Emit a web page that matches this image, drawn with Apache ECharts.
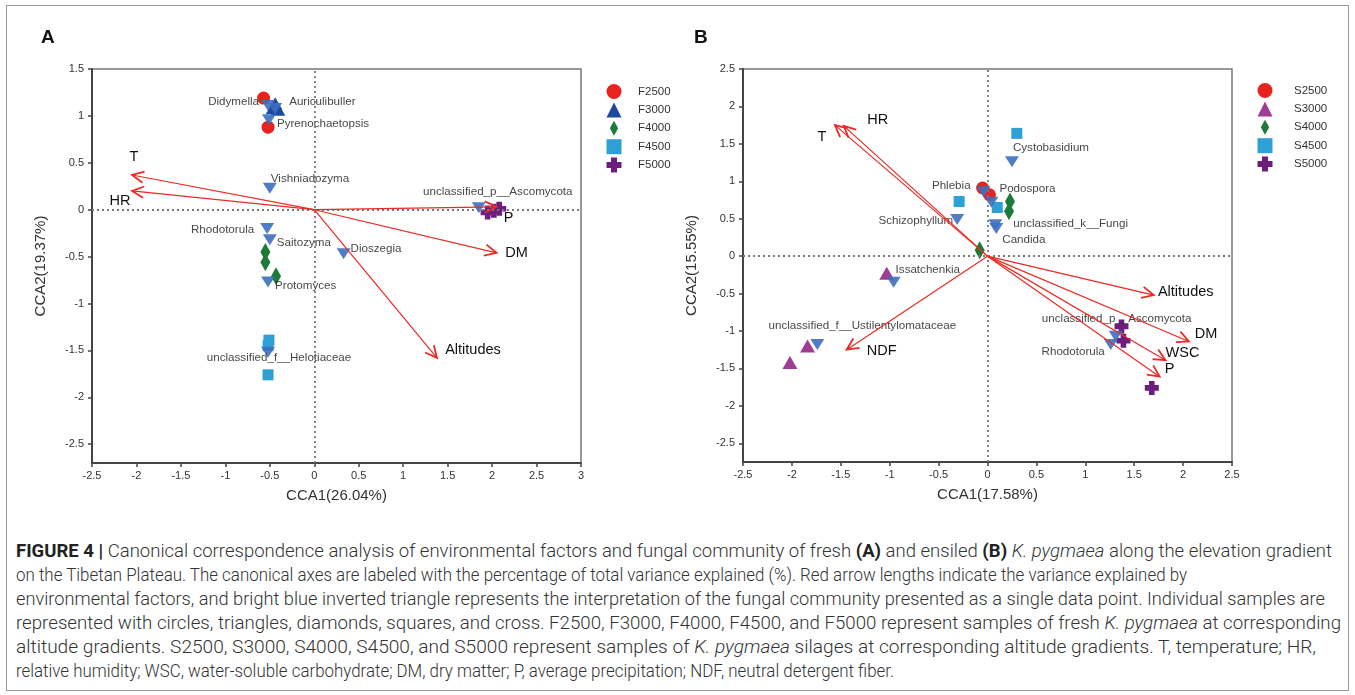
<!DOCTYPE html>
<html>
<head>
<meta charset="utf-8">
<script src="https://cdn.jsdelivr.net/npm/echarts@6/dist/echarts.min.js"></script>
<style>
  html, body { margin: 0; padding: 0; background: #fff; }
  #frame { position: absolute; left: 6px; top: 5px; width: 1341px; height: 684px; border: 1px solid #9a9a9a; }
  #chart { position: absolute; left: 0; top: 0; width: 1355px; height: 520px; }
  #caption {
    position: absolute; left: 16px; top: 539px;
    font-family: "Liberation Sans Narrow", Roboto, "Liberation Sans", sans-serif;
    font-size: 18px; color: #333; font-weight: 300;
  }
  #caption .line { white-space: nowrap; height: 24px; line-height: 24px; transform-origin: 0 50%; width: max-content; }
  #caption b { font-weight: bold; color: #222; }
</style>
</head>
<body>
<div id="frame"></div>
<div id="chart"></div>
<div id="caption">
  <div class="line" data-w="1316"><b>FIGURE 4 |</b> Canonical correspondence analysis of environmental factors and fungal community of fresh <b>(A)</b> and ensiled <b>(B)</b> <i>K. pygmaea</i> along the elevation gradient</div>
  <div class="line" data-w="1171">on the Tibetan Plateau. The canonical axes are labeled with the percentage of total variance explained (%). Red arrow lengths indicate the variance explained by</div>
  <div class="line" data-w="1309">environmental factors, and bright blue inverted triangle represents the interpretation of the fungal community presented as a single data point. Individual samples are</div>
  <div class="line" data-w="1325">represented with circles, triangles, diamonds, squares, and cross. F2500, F3000, F4000, F4500, and F5000 represent samples of fresh <i>K. pygmaea</i> at corresponding</div>
  <div class="line" data-w="1300">altitude gradients. S2500, S3000, S4000, S4500, and S5000 represent samples of <i>K. pygmaea</i> silages at corresponding altitude gradients. T, temperature; HR,</div>
  <div class="line" data-w="878">relative humidity; WSC, water-soluble carbohydrate; DM, dry matter; P, average precipitation; NDF, neutral detergent fiber.</div>
</div>
<script>
// ---- panel A : fresh ----
const f2500 = [[-0.57, 1.19], [-0.52, 0.88]];
const f3000 = [[-0.46, 1.09], [-0.41, 1.07], [-0.44, 1.13]];
const f4000 = [[-0.55, -0.45], [-0.55, -0.56], [-0.43, -0.71]];
const f4500 = [[-0.51, -1.39], [-0.52, -1.45], [-0.52, -1.76]];
const f5000 = [[1.95, -0.03], [2.08, 0.01], [2.02, -0.01]];
const freshSpecies = ['Didymella', 'Auriculibuller', 'Pyrenochaetopsis', 'Vishniadozyma', 'Rhodotorula',
  'Saitozyma', 'Dioszegia', 'Protomyces', 'unclassified_f__Helotiaceae', 'unclassified_p__Ascomycota'];
const freshSpeciesXY = [[-0.52, 1.11], [-0.44, 1.08], [-0.51, 0.96], [-0.50, 0.23], [-0.53, -0.20],
  [-0.50, -0.32], [0.33, -0.47], [-0.52, -0.77], [-0.52, -1.52], [1.85, 0.02]];
const freshFactors = ['T', 'HR', 'P', 'DM', 'Altitudes'];
const freshFactorXY = [[-2.05, 0.37], [-2.05, 0.20], [2.05, 0.03], [2.05, -0.46], [1.38, -1.58]];

// ---- panel B : silage ----
const s2500 = [[-0.05, 0.91], [0.02, 0.82]];
const s3000 = [[-1.03, -0.23], [-1.84, -1.20], [-2.02, -1.42]];
const s4000 = [[0.23, 0.73], [0.22, 0.60], [-0.08, 0.08]];
const s4500 = [[0.30, 1.64], [-0.29, 0.73], [0.10, 0.65]];
const s5000 = [[1.37, -0.94], [1.39, -1.13], [1.68, -1.76]];
const silageSpecies = ['Cystobasidium', 'Phlebia', 'Podospora', 'Schizophyllum', 'unclassified_k__Fungi',
  'Candida', 'Issatchenkia', 'unclassified_f__Ustilentylomataceae', 'unclassified_p__Ascomycota', 'Rhodotorula'];
const silageSpeciesXY = [[0.25, 1.26], [-0.04, 0.86], [0.04, 0.72], [-0.31, 0.49], [0.08, 0.42],
  [0.09, 0.37], [-0.96, -0.35], [-1.74, -1.18], [1.31, -1.07], [1.26, -1.18]];
const silageFactors = ['T', 'HR', 'NDF', 'Altitudes', 'DM', 'WSC', 'P'];
const silageFactorXY = [[-1.56, 1.75], [-1.47, 1.74], [-1.44, -1.25], [1.70, -0.52], [2.06, -1.14], [1.82, -1.39], [1.76, -1.61]];

const yTicksA = [-2.5, -2, -1.5, -1, -0.5, 0, 0.5, 1, 1.5];
const yTicksB = [-2.5, -2, -1.5, -1, -0.5, 0, 0.5, 1, 1.5, 2, 2.5];

// label placement (align, dx, dy) relative to marker centre
const freshSpeciesLabel = [['right', -9, -4], ['left', 14, -7], ['left', 8, 4], ['left', 1, -9], ['right', -13, 1],
  ['left', 7, 3], ['left', 7, -5], ['left', 7, 4], ['center', 11, 5], ['center', 19, -16]];
const silageSpeciesLabel = [['left', 1, -14], ['right', -13, -6], ['left', 8, -13], ['right', -4, 1], ['left', 18, -1],
  ['left', 6, 11], ['left', 2, -13], ['center', 45, -19], ['center', 1, -17], ['right', -6, 7]];
const freshFactorLabel = [[2, -18], [-12, 10], [12, 11], [20, 0], [36, -8]];
const silageFactorLabel = [[-13, 12], [34, -6], [35, 1], [32, -3], [17, -7], [17, -7], [10, -8]];

const FONT = '"Liberation Sans", Arial, sans-serif';
const RED = '#ea2a24';
const SPECIES_BLUE = '#3f6fc0';
const crossPath = 'path://M3,0 H7 V3 H10 V7 H7 V10 H3 V7 H0 V3 H3 Z';
const diamondPath = 'path://M5,0 L10,9 L5,18 L0,9 Z';

const sampleStyles = [
  { symbol: 'circle', size: 13, color: '#e8221f' },
  { symbol: 'triangle', size: [15, 13], color: null },
  { symbol: diamondPath, size: [10, 18], color: '#1e7a3a' },
  { symbol: 'rect', size: 11, color: '#2fa0d6' },
  { symbol: crossPath, size: 14, color: '#6c1d7e' }
];

function sampleSeries(names, sets, triColor, gi) {
  return sets.map((pts, i) => ({
    type: 'scatter', name: names[i], xAxisIndex: gi, yAxisIndex: gi,
    symbol: sampleStyles[i].symbol, symbolSize: sampleStyles[i].size,
    itemStyle: { color: i === 1 ? triColor : sampleStyles[i].color, opacity: 1 },
    data: pts, z: 3, silent: true
  }));
}

function speciesSeries(names, xy, labels, gi) {
  return {
    type: 'scatter', xAxisIndex: gi, yAxisIndex: gi, z: 4, silent: true,
    symbol: 'triangle', symbolRotate: 180, symbolSize: [14, 11],
    itemStyle: { color: SPECIES_BLUE, opacity: 0.9 },
    data: xy.map((p, i) => ({
      value: p, name: names[i],
      label: { show: true, position: 'inside', formatter: names[i], align: labels[i][0],
        offset: [labels[i][1], labels[i][2]], fontSize: 11.6, color: '#333', fontFamily: FONT }
    }))
  };
}

function arrowSeries(names, xy, offsets, gi) {
  return {
    type: 'custom', xAxisIndex: gi, yAxisIndex: gi, z: 5, silent: true,
    data: xy,
    renderItem: function (params, api) {
      const i = params.dataIndex;
      const o = api.coord([0, 0]);
      const t = api.coord([api.value(0), api.value(1)]);
      const a = Math.atan2(t[1] - o[1], t[0] - o[0]);
      const L = 13, w = 0.45;
      const h1 = [t[0] - L * Math.cos(a - w), t[1] - L * Math.sin(a - w)];
      const h2 = [t[0] - L * Math.cos(a + w), t[1] - L * Math.sin(a + w)];
      return {
        type: 'group',
        children: [
          { type: 'line', shape: { x1: o[0], y1: o[1], x2: t[0], y2: t[1] }, style: { stroke: RED, lineWidth: 1.2 } },
          { type: 'polyline', shape: { points: [h1, t, h2] }, style: { stroke: RED, lineWidth: 1.8, fill: null } },
          { type: 'text', x: t[0] + offsets[i][0], y: t[1] + offsets[i][1],
            style: { text: names[i], fill: '#111', font: '14.5px ' + FONT, align: 'center', verticalAlign: 'middle' } }
        ]
      };
    }
  };
}

function zeroLines(gi) {
  return {
    type: 'scatter', xAxisIndex: gi, yAxisIndex: gi, data: [], z: 1, silent: true,
    markLine: {
      silent: true, symbol: ['none', 'none'], label: { show: false },
      lineStyle: { type: [2, 3], color: '#777', width: 1.8 },
      data: [{ xAxis: 0 }, { yAxis: 0 }]
    }
  };
}

function xAxis(gi, min, max, name) {
  return {
    type: 'value', gridIndex: gi, min: min, max: max, interval: 0.5,
    name: name, nameLocation: 'middle', nameGap: 25,
    nameTextStyle: { fontSize: 15, color: '#333', fontFamily: FONT },
    axisLine: { onZero: false, lineStyle: { color: '#444', width: 2 } },
    axisTick: { length: 4, lineStyle: { color: '#444', width: 1.5 } },
    axisLabel: { fontSize: 11, color: '#333', fontFamily: FONT, margin: 7 },
    splitLine: { show: false }
  };
}

function yAxis(gi, min, max, ticks, name) {
  return {
    type: 'value', gridIndex: gi, min: min, max: max,
    name: name, nameLocation: 'middle', nameGap: 44,
    nameTextStyle: { fontSize: 15, color: '#333', fontFamily: FONT },
    axisLine: { onZero: false, lineStyle: { color: '#444', width: 2 } },
    axisTick: { length: 4, customValues: ticks, lineStyle: { color: '#444', width: 1.5 } },
    axisLabel: { fontSize: 11, color: '#333', fontFamily: FONT, margin: 8, customValues: ticks },
    splitLine: { show: false }
  };
}

function legend(names, left, top, pad) {
  const icons = ['circle', 'triangle', diamondPath, 'rect', crossPath];
  return {
    orient: 'vertical', left: left, top: top, itemWidth: 15, itemHeight: 15, itemGap: 3.4,
    selectedMode: false,
    data: names.map((n, i) => ({ name: n, icon: icons[i] })),
    textStyle: { fontSize: 11.5, color: '#333', fontFamily: FONT, padding: [0, 0, 0, pad] }
  };
}

const freshNames = ['F2500', 'F3000', 'F4000', 'F4500', 'F5000'];
const silageNames = ['S2500', 'S3000', 'S4000', 'S4500', 'S5000'];

const chart = echarts.init(document.getElementById('chart'));
chart.setOption({
  animation: false,
  textStyle: { fontFamily: FONT },
  grid: [
    { left: 92, top: 69, width: 489, height: 394, show: true, borderColor: '#777', borderWidth: 1.5 },
    { left: 743, top: 69, width: 489, height: 393, show: true, borderColor: '#777', borderWidth: 1.5 }
  ],
  xAxis: [xAxis(0, -2.5, 3, 'CCA1(26.04%)'), xAxis(1, -2.5, 2.5, 'CCA1(17.58%)')],
  yAxis: [yAxis(0, -2.7, 1.5, yTicksA, 'CCA2(19.37%)'), yAxis(1, -2.75, 2.5, yTicksB, 'CCA2(15.55%)')],
  legend: [legend(freshNames, 601.5, 79, 11.5), legend(silageNames, 1252.5, 78, 16.5)],
  graphic: [
    { type: 'text', left: 41, top: 28, style: { text: 'A', font: 'bold 19px ' + FONT, fill: '#111' } },
    { type: 'text', left: 694, top: 28, style: { text: 'B', font: 'bold 19px ' + FONT, fill: '#111' } }
  ],
  series: [
    zeroLines(0), zeroLines(1),
    ...sampleSeries(freshNames, [f2500, f3000, f4000, f4500, f5000], '#1c4a9e', 0),
    ...sampleSeries(silageNames, [s2500, s3000, s4000, s4500, s5000], '#a03c94', 1),
    speciesSeries(freshSpecies, freshSpeciesXY, freshSpeciesLabel, 0),
    speciesSeries(silageSpecies, silageSpeciesXY, silageSpeciesLabel, 1),
    arrowSeries(freshFactors, freshFactorXY, freshFactorLabel, 0),
    arrowSeries(silageFactors, silageFactorXY, silageFactorLabel, 1)
  ]
});

// fit each caption line to the width it has in the figure
document.querySelectorAll('#caption .line').forEach(function (el) {
  const w = el.getBoundingClientRect().width;
  el.style.transform = 'scaleX(' + (Number(el.dataset.w) / w) + ')';
});
</script>
</body>
</html>
